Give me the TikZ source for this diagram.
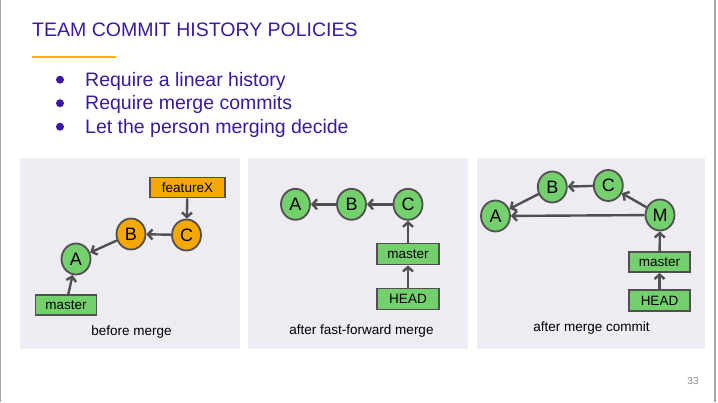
\documentclass[tikz,border=0pt]{standalone}
\usepackage{fontspec}
\setmainfont{Liberation Sans}
\usetikzlibrary{arrows.meta,shapes.geometric}
\definecolor{ink}{HTML}{3B1AA0}
\definecolor{gold}{HTML}{F4B400}
\definecolor{panelbg}{HTML}{EEEBF2}
\definecolor{commitgreen}{HTML}{74D06C}
\definecolor{branchorange}{HTML}{F5A800}
\definecolor{edge}{HTML}{505050}
\tikzset{
  panel/.style={fill=panelbg, draw=none},
  commit/.style={ellipse, draw=edge, line width=1.8pt, fill=commitgreen,
    minimum width=29pt, minimum height=31pt, inner sep=0pt,
    font=\fontsize{18}{18}\selectfont},
  featcommit/.style={commit, fill=branchorange},
  ref/.style={rectangle, draw=edge, line width=1.8pt, fill=commitgreen,
    minimum width=61pt, minimum height=20pt, inner sep=0pt,
    font=\fontsize{13.5}{13.5}\selectfont},
  featref/.style={ref, fill=branchorange, minimum width=75pt},
  parent/.style={draw=edge, line width=2.4pt, -{Straight Barb[length=4.5pt,width=10pt]}},
  caption/.style={font=\fontsize{13.5}{13.5}\selectfont},
  bullettext/.style={anchor=base west, text=ink, font=\fontsize{19.5}{19.5}\selectfont, inner sep=0pt}
}
\begin{document}
\begin{tikzpicture}[x=1pt,y=-1pt]
\useasboundingbox (0,0) rectangle (718,402);
\fill[white] (0,0) rectangle (718,402);
% slide edges
\draw[gray!70, line width=1.2pt] (0.6,0) -- (0.6,402);
\draw[gray!70, line width=1.2pt] (715,0) -- (715,402);

% heading
\node[bullettext] (title) at (32,36) {TEAM COMMIT HISTORY POLICIES};
\draw[gold, line width=2pt] (32,57.3) -- (116,57.3);

% bullet list
\foreach \y/\t [count=\i] in {86/Require a linear history, 109.5/Require merge commits, 133/Let the person merging decide}{
  \fill[ink] (60,\y-6.3) circle (4pt);
  \node[bullettext] (item\i) at (85,\y) {\t};
}

% panels
\fill[panel] (20,158) rectangle (240,349);
\fill[panel] (248,158) rectangle (468,349);
\fill[panel] (477,158) rectangle (705,349);

% before merge
\node[featref] (fx) at (187.5,187.5) {featureX};
\node[featcommit] (c1) at (186.5,235) {C};
\node[featcommit] (b1) at (131,234) {B};
\node[commit] (a1) at (76,259) {A};
\node[ref] (m1) at (66,305) {master};
\draw[parent] (fx) -- (c1);
\draw[parent] (c1) -- (b1);
\draw[parent] (b1) -- (a1);
\draw[parent] (m1) -- (a1);
\node[caption] (cap1) at (131.5,332) {before merge};

% after fast-forward merge
\node[commit] (a2) at (295.5,204.3) {A};
\node[commit] (b2) at (351.5,204.3) {B};
\node[commit] (c2) at (408,204.3) {C};
\node[ref, minimum width=62.5pt, minimum height=21pt] (m2) at (408,254) {master};
\node[ref, minimum width=62.5pt, minimum height=21pt] (h2) at (408,299) {HEAD};
\draw[parent] (b2) -- (a2);
\draw[parent] (c2) -- (b2);
\draw[parent] (m2) -- (c2);
\draw[parent] (h2) -- (m2);
\node[caption] (cap2) at (361.5,331.5) {after fast-forward merge};

% after merge commit
\node[commit] (a3) at (495.5,216) {A};
\node[commit] (b3) at (552.3,187) {B};
\node[commit] (c3) at (608.3,185.5) {C};
\node[commit] (mm3) at (660,215) {M};
\node[ref] (m3) at (659.5,262) {master};
\node[ref, minimum height=21pt] (h3) at (659.5,300.5) {HEAD};
\draw[parent] (b3) -- (a3);
\draw[parent] (c3) -- (b3);
\draw[parent] (mm3) -- (c3);
\draw[parent] (mm3) -- (a3);
\draw[parent] (m3) -- (mm3);
\draw[parent] (h3) -- (m3);
\node[caption] (cap3) at (591.5,328.5) {after merge commit};

% slide number
\node[text=gray!90, font=\fontsize{10}{10}\selectfont] (pg) at (693,381) {33};
\end{tikzpicture}
\end{document}
